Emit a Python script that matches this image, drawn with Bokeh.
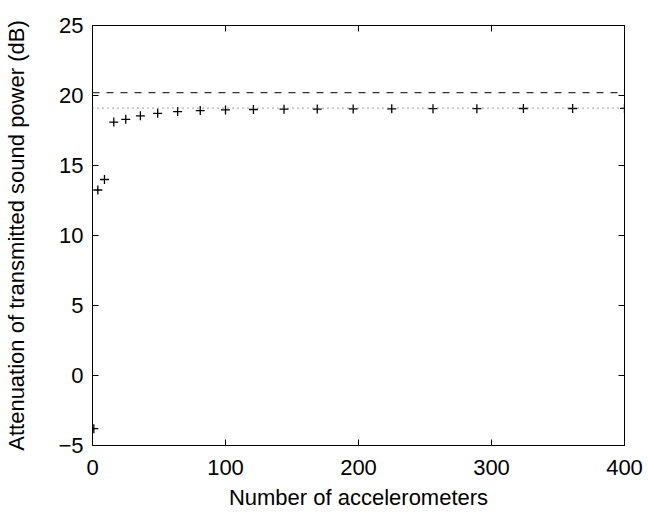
from bokeh.plotting import figure
from bokeh.models import Span, LinearAxis, Range1d, FixedTicker
from bokeh.embed import file_html
from bokeh.resources import INLINE

# Data
n_accel = [1, 4, 9, 16, 25, 36, 49, 64, 81, 100, 121, 144, 169, 196, 225, 256, 289, 324, 361, 400]
attenuation = [-3.8, 13.25, 14.0, 18.1, 18.3, 18.55, 18.73, 18.85, 18.92, 18.97, 19.0, 19.02, 19.03,
               19.04, 19.05, 19.06, 19.06, 19.07, 19.07, 19.08]
dashed_level = 20.2
dotted_level = 19.1
x_ticks = [0, 100, 200, 300, 400]
y_ticks = [-5, 0, 5, 10, 15, 20, 25]

FONT = "Liberation Sans"

p = figure(frame_width=532, frame_height=420, output_backend="svg", toolbar_location=None,
           x_range=Range1d(0, 400), y_range=Range1d(-5, 25),
           min_border_left=92, min_border_right=20, min_border_top=25, min_border_bottom=74,
           x_axis_label="Number of accelerometers",
           y_axis_label="Attenuation of transmitted sound power (dB)")
p.background_fill_color = "white"
p.border_fill_color = "white"
p.grid.visible = False
p.outline_line_color = "black"
p.outline_line_width = 1

for ax, ticks in ((p.xaxis[0], x_ticks), (p.yaxis[0], y_ticks)):
    ax.ticker = FixedTicker(ticks=ticks)
    ax.minor_tick_line_color = None
    ax.major_tick_in = 6
    ax.major_tick_out = 0
    ax.axis_line_color = "black"
    ax.major_tick_line_color = "black"
    ax.major_label_text_font = FONT
    ax.major_label_text_font_size = "22px"
    ax.major_label_text_color = "black"
    ax.axis_label_text_font = FONT
    ax.axis_label_text_font_size = "22px"
    ax.axis_label_text_font_style = "normal"
    ax.axis_label_text_color = "black"

p.xaxis[0].major_label_standoff = 14
p.xaxis[0].axis_label_standoff = 7
p.yaxis[0].major_label_standoff = 9
p.yaxis[0].axis_label_standoff = 26

# mirror axes (ticks only)
top = LinearAxis(ticker=FixedTicker(ticks=x_ticks), major_tick_in=6, major_tick_out=0,
                 minor_tick_line_color=None, major_label_text_color=None,
                 major_label_standoff=0)
right = LinearAxis(ticker=FixedTicker(ticks=y_ticks), major_tick_in=6, major_tick_out=0,
                   minor_tick_line_color=None, major_label_text_color=None,
                   major_label_standoff=0)
p.add_layout(top, "above")
p.add_layout(right, "right")

p.add_layout(Span(location=dashed_level, dimension="width", line_color="#333333",
                  line_dash="7 7", line_width=1.2))
p.add_layout(Span(location=dotted_level, dimension="width", line_color="#666666",
                  line_dash="1 4", line_width=1.2))

p.scatter(n_accel, attenuation, marker="cross", size=9, line_color="black", line_width=1.3)

open("out.html", "w").write(file_html(p, INLINE))
